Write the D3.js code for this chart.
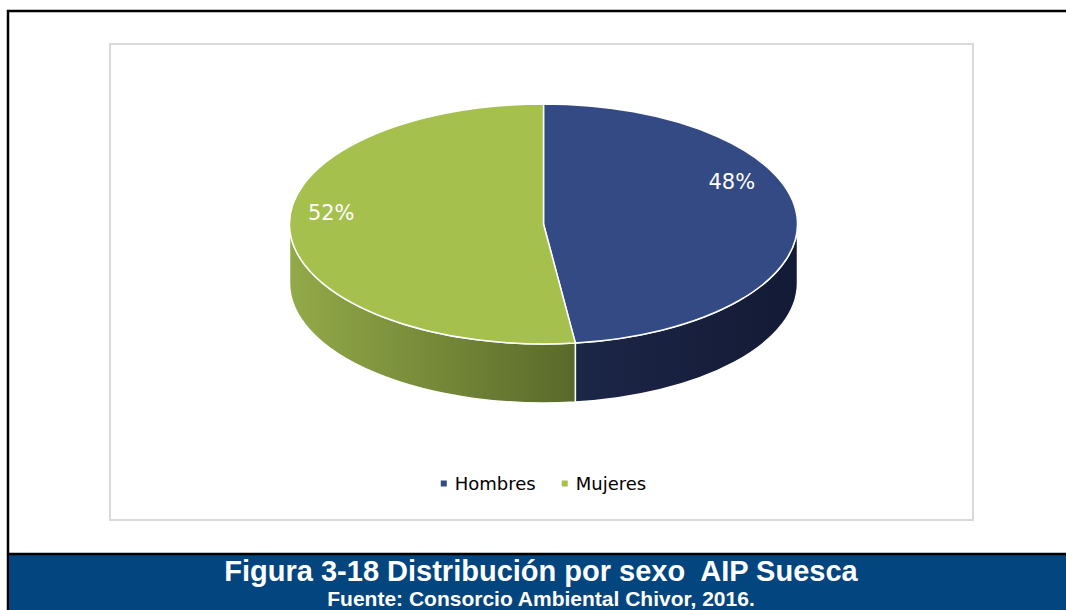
<!DOCTYPE html>
<html>
<head>
<meta charset="utf-8">
<script src="https://d3js.org/d3.v7.min.js"></script>
<style>
  body { margin: 0; background: #fff; }
  svg { display: block; }
</style>
</head>
<body>
<svg id="chart" width="1066" height="610"></svg>
<script>
// Data
const categories = ["Hombres", "Mujeres"];
const values = [48, 52];
const labels = ["48%", "52%"];
const topColors = ["#344a85", "#a6c04e"];
const sideLight = ["#1c2647", "#93aa48"];
const sideDark = ["#131a35", "#59692a"];
const title = "Figura 3-18 Distribución por sexo  AIP Suesca";
const source = "Fuente: Consorcio Ambiental Chivor, 2016.";

const W = 1066, H = 610;
const svg = d3.select("#chart");

// Frame lines
svg.append("rect").attr("x", 8).attr("y", 11).attr("width", W).attr("height", H)
  .attr("fill", "none").attr("stroke", "#000").attr("stroke-width", 2.5);
svg.append("rect").attr("x", 9).attr("y", 554).attr("width", W - 9).attr("height", H - 554)
  .attr("fill", "#03457f");
svg.append("line").attr("x1", 8).attr("x2", W).attr("y1", 554).attr("y2", 554)
  .attr("stroke", "#000").attr("stroke-width", 2.5);

// Chart area box
svg.append("rect").attr("x", 110).attr("y", 44).attr("width", 863).attr("height", 476)
  .attr("fill", "#fff").attr("stroke", "#d9d9d9").attr("stroke-width", 2);

// 3D pie geometry
const cx = 543.5, cy = 224, rx = 254, ry = 120, depth = 59;
const pie = d3.pie().sort(null).value(d => d)(values);
const P = (a, dy = 0) => [cx + rx * Math.sin(a), cy - ry * Math.cos(a) + dy];

const defs = svg.append("defs");
pie.forEach((d, i) => {
  const xa = P(Math.max(d.startAngle, Math.PI / 2))[0];
  const xb = P(Math.min(d.endAngle, 3 * Math.PI / 2))[0];
  const g = defs.append("linearGradient").attr("id", "side" + i)
    .attr("gradientUnits", "userSpaceOnUse")
    .attr("x1", Math.min(xa, xb)).attr("x2", Math.max(xa, xb))
    .attr("y1", 0).attr("y2", 0);
  g.append("stop").attr("offset", "0%").attr("stop-color", sideLight[i]);
  g.append("stop").attr("offset", "100%").attr("stop-color", sideDark[i]);
});

function arcTo(a0, a1, dy) {
  const p = P(a1, dy);
  const large = Math.abs(a1 - a0) > Math.PI ? 1 : 0;
  const sweep = a1 > a0 ? 1 : 0;
  return `A${rx},${ry} 0 ${large} ${sweep} ${p[0]},${p[1]}`;
}

// Side walls (front half only)
pie.forEach((d, i) => {
  const a0 = Math.max(d.startAngle, Math.PI / 2);
  const a1 = Math.min(d.endAngle, 3 * Math.PI / 2);
  if (a1 <= a0) return;
  const s = P(a0), e = P(a1, depth);
  const path = `M${s[0]},${s[1]} ${arcTo(a0, a1, 0)} L${e[0]},${e[1]} ${arcTo(a1, a0, depth)} Z`;
  svg.append("path").attr("d", path).attr("fill", `url(#side${i})`)
    .attr("stroke", "#fff").attr("stroke-width", 1.5).attr("stroke-linejoin", "round");
});

// Top faces
pie.forEach((d, i) => {
  const s = P(d.startAngle);
  const path = `M${cx},${cy} L${s[0]},${s[1]} ${arcTo(d.startAngle, d.endAngle, 0)} Z`;
  svg.append("path").attr("d", path).attr("fill", topColors[i])
    .attr("stroke", "#fff").attr("stroke-width", 1.5).attr("stroke-linejoin", "round");
});

// Data labels
pie.forEach((d, i) => {
  const mid = (d.startAngle + d.endAngle) / 2;
  const x = cx - 12 + rx * 0.79 * Math.sin(mid);
  const y = cy - ry * 2 * Math.cos(mid) - 27;
  svg.append("text").attr("x", x).attr("y", y).attr("dy", "0.36em")
    .attr("text-anchor", "middle").attr("fill", "#fff")
    .style("font-family", "'DejaVu Sans', sans-serif").style("font-size", "21px")
    .text(labels[i]);
});

// Legend
const legend = svg.append("g").style("font-family", "'DejaVu Sans', sans-serif").style("font-size", "18px");
const items = legend.selectAll("g").data(categories).join("g");
items.append("rect").attr("width", 6).attr("height", 6).attr("y", -9.5)
  .attr("fill", (d, i) => topColors[i]);
items.append("text").attr("x", 14).attr("y", 0).attr("fill", "#000").text(d => d);
let off = 0;
items.each(function () {
  const w = d3.select(this).select("text").node().getComputedTextLength() + 14;
  d3.select(this).attr("transform", `translate(${off},0)`);
  off += w + 26;
});
off -= 26;
legend.attr("transform", `translate(${cx - off / 2},490)`);

// Caption
svg.append("text").attr("x", 541).attr("y", 581).attr("text-anchor", "middle")
  .attr("fill", "#fff").style("white-space", "pre")
  .style("font-family", "'Liberation Sans', Arial, sans-serif").style("font-weight", "bold").style("font-size", "29px")
  .text(title);
svg.append("text").attr("x", 541).attr("y", 606).attr("text-anchor", "middle")
  .attr("fill", "#fff")
  .style("font-family", "'Liberation Sans', Arial, sans-serif").style("font-weight", "bold").style("font-size", "21px")
  .text(source);
</script>
</body>
</html>
